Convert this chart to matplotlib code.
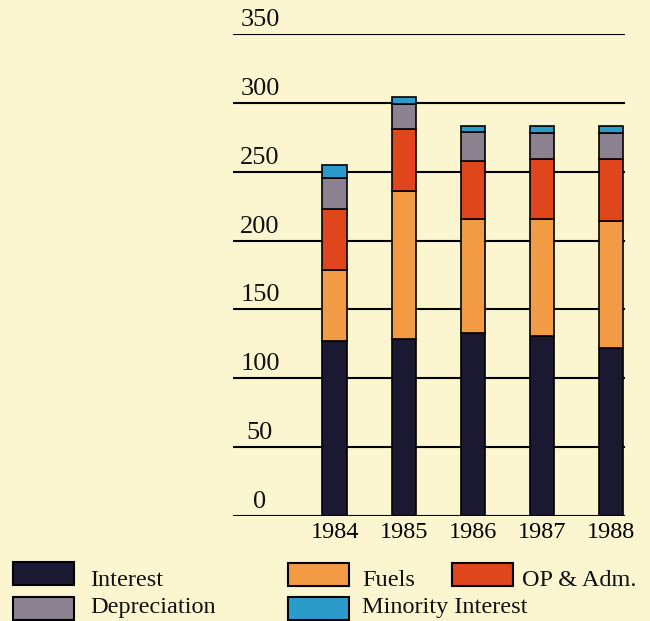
import matplotlib
matplotlib.use("Agg")
import matplotlib.pyplot as plt
from matplotlib.patches import Rectangle
import matplotlib.transforms as mtransforms
import numpy as np

plt.rcParams['font.family'] = ['Liberation Serif', 'DejaVu Serif']

years = ["1984", "1985", "1986", "1987", "1988"]
series_names = ["Interest", "Fuels", "OP & Adm.", "Depreciation", "Minority Interest"]
interest = [127, 128.5, 133, 130.5, 122]
fuels = [51.5, 107.5, 83, 85, 92]
op_adm = [44.3, 45, 42, 44, 45.5]
depreciation = [22.4, 18.5, 20.5, 18.5, 18.5]
minority = [9.7, 5, 4.5, 5, 5]
yticks = [0, 50, 100, 150, 200, 250, 300, 350]

colors = {
    "Interest": "#1b1932",
    "Fuels": "#f39a45",
    "OP & Adm.": "#e0461c",
    "Depreciation": "#8b8190",
    "Minority Interest": "#2b9cc9",
}
bg = "#fbf6cf"

W, H = 650, 621
fig = plt.figure(figsize=(W / 100, H / 100), dpi=100, facecolor=bg)
left_px, right_px, top_px, bot_px = 233, 625, 34, 516
ax = fig.add_axes([left_px / W, 1 - bot_px / H, (right_px - left_px) / W, (bot_px - top_px) / H])
ax.set_facecolor(bg)
ax.patch.set_alpha(0)

x = np.arange(len(years))
bottom = np.zeros(len(years))
data = [interest, fuels, op_adm, depreciation, minority]
for name, vals in zip(series_names, data):
    ax.bar(x, vals, width=0.355, bottom=bottom, color=colors[name],
           edgecolor="black", linewidth=1.2, zorder=3)
    bottom = bottom + np.array(vals)

ax.set_xlim(-1.472, 4.20)
ax.set_ylim(0, 350)
for s in ax.spines.values():
    s.set_visible(False)

for v in yticks:
    ax.axhline(v, color="black", lw=1.5, zorder=1)

ax.set_yticks([])
ax.set_xticks(x)
ax.set_xticklabels(years, fontsize=17.5)
ax.tick_params(axis="x", length=0, pad=4)

offset = mtransforms.ScaledTranslation(0, 8 / 100, fig.dpi_scale_trans)
trans = mtransforms.blended_transform_factory(ax.transAxes, ax.transData) + offset
for v in yticks:
    ax.text((260 - left_px) / (right_px - left_px), v, str(v), transform=trans,
            ha="center", va="baseline", fontsize=19, color="#111111")

# Manual legend
legend_items = [
    ("Interest", 13, 562, 90, 580),
    ("Depreciation", 13, 597, 90, 607),
    ("Fuels", 288, 563, 362, 580),
    ("Minority Interest", 288, 597, 362, 607),
    ("OP & Adm.", 452, 563, 522, 580),
]
bw, bh = 61, 23
for name, bx, by, tx, ty in legend_items:
    rect = Rectangle((bx / W, 1 - (by + bh) / H), bw / W, bh / H,
                     transform=fig.transFigure, facecolor=colors[name],
                     edgecolor="black", linewidth=1.5)
    fig.add_artist(rect)
    fig.text(tx / W, 1 - ty / H, name, fontsize=17.5,
             ha="left", va="center", color="#111111")

fig.savefig("out.png", dpi=100, facecolor=bg)
